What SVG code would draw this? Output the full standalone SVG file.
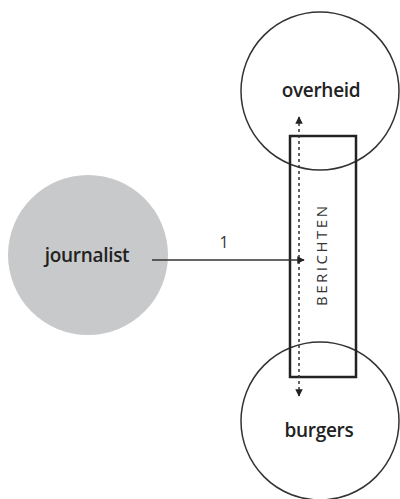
<svg xmlns="http://www.w3.org/2000/svg" width="400" height="499" viewBox="0 0 400 499">
<style>
.node{fill:#fff;stroke:#333;stroke-width:1.5}
.lbl{font-family:"Open Sans","DejaVu Sans",sans-serif;font-weight:600;font-size:19px;fill:#222;text-anchor:middle;letter-spacing:-0.3px}
.conn{stroke:#333;fill:none}
</style>
<defs>
<marker id="ah" viewBox="0 0 10 10" refX="9" refY="5" markerWidth="5" markerHeight="5" orient="auto-start-reverse">
<path d="M0,0 L10,5 L0,10 z" fill="#222"/>
</marker>
</defs>
<rect width="400" height="499" fill="#fff"/>
<g id="overheid">
<circle class="node" cx="320" cy="91" r="79"/>
<text class="lbl" x="321" y="97">overheid</text>
</g>
<g id="burgers">
<circle class="node" cx="320" cy="421" r="79"/>
<text class="lbl" x="319" y="437">burgers</text>
</g>
<g id="journalist">
<circle cx="88" cy="255" r="80" fill="#c8c9cb"/>
<text class="lbl" x="87" y="262">journalist</text>
</g>
<g id="berichten">
<rect x="290" y="136" width="66" height="241" fill="none" stroke="#222" stroke-width="2.5"/>
<text x="0" y="0" transform="translate(327,256) rotate(-90)" font-family="'Open Sans','DejaVu Sans',sans-serif" font-size="15" fill="#333" text-anchor="middle" textLength="100" lengthAdjust="spacing">BERICHTEN</text>
</g>
<g id="connectors">
<line class="conn" x1="299" y1="117" x2="299" y2="396" stroke-width="1.5" stroke-dasharray="3,3" marker-start="url(#ah)" marker-end="url(#ah)"/>
<line class="conn" x1="152" y1="260" x2="304" y2="260" stroke-width="1.5" marker-end="url(#ah)"/>
<text x="224" y="248" font-family="'Open Sans','DejaVu Sans',sans-serif" font-size="16" fill="#333" text-anchor="middle">1</text>
</g>
</svg>
